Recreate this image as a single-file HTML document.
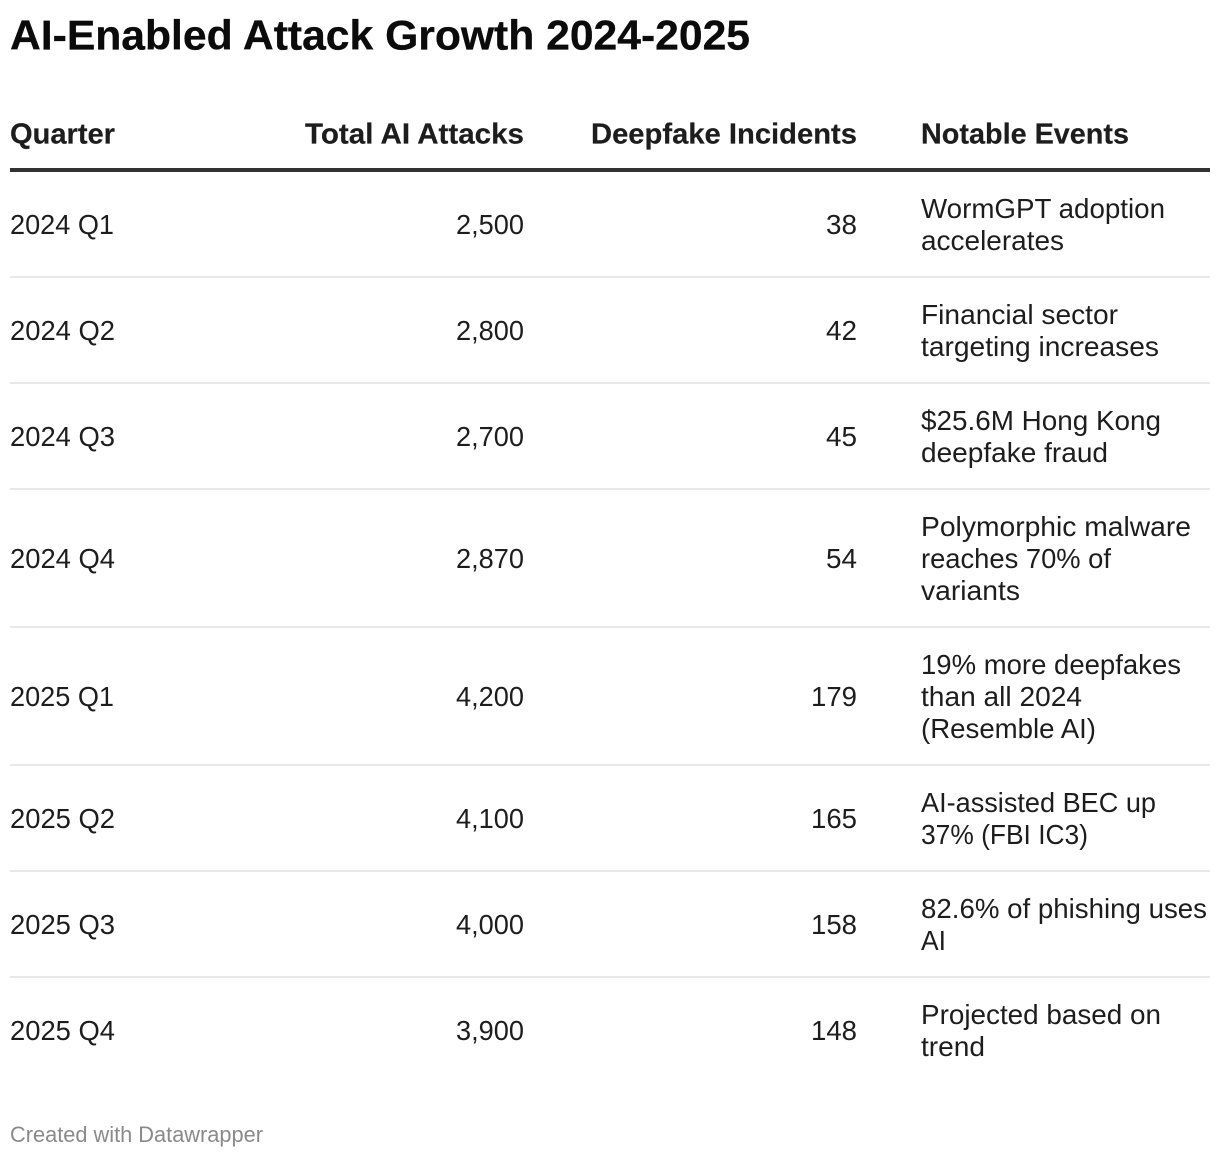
<!DOCTYPE html>
<html lang="en">
<head>
<meta charset="utf-8">
<title>AI-Enabled Attack Growth 2024-2025</title>
<style>
html,body{margin:0;padding:0;background:#fff;width:1220px;height:1158px;overflow:hidden}
svg{display:block}
text{font-family:"Liberation Sans",Arial,sans-serif;fill:#1d1d1d;font-size:28px}
.h{font-weight:700;font-size:28.5px;stroke:#1d1d1d;stroke-width:.2px}
.t{font-weight:700;font-size:42px;fill:#0b0b0b;stroke:#0b0b0b;stroke-width:.3px}
.f{font-size:22.5px;fill:#8a8a8a}
.r{fill:#e9e9e9}
</style>
</head>
<body>
<svg width="1220" height="1158" viewBox="0 0 1220 1158">
<text class="t" x="10" y="49.5" textLength="740" lengthAdjust="spacingAndGlyphs">AI-Enabled Attack Growth 2024-2025</text>

<g>
<text class="h" x="10" y="143.5" textLength="105" lengthAdjust="spacingAndGlyphs">Quarter</text>
<text class="h" x="305" y="143.5" textLength="219" lengthAdjust="spacingAndGlyphs">Total AI Attacks</text>
<text class="h" x="591" y="143.5" textLength="266" lengthAdjust="spacingAndGlyphs">Deepfake Incidents</text>
<text class="h" x="921" y="143.5" textLength="208" lengthAdjust="spacingAndGlyphs">Notable Events</text>
<rect x="10" y="168" width="1200" height="4" fill="#333"/>
</g>

<g>
<text x="10" y="234" textLength="104" lengthAdjust="spacingAndGlyphs">2024 Q1</text>
<text x="456" y="234" textLength="68" lengthAdjust="spacingAndGlyphs">2,500</text>
<text x="826" y="234" textLength="31" lengthAdjust="spacingAndGlyphs">38</text>
<text x="921" y="218" textLength="244" lengthAdjust="spacingAndGlyphs">WormGPT adoption</text>
<text x="921" y="250" textLength="143" lengthAdjust="spacingAndGlyphs">accelerates</text>
<rect class="r" x="10" y="276" width="1200" height="2"/>
</g>

<g>
<text x="10" y="340" textLength="105" lengthAdjust="spacingAndGlyphs">2024 Q2</text>
<text x="456" y="340" textLength="68" lengthAdjust="spacingAndGlyphs">2,800</text>
<text x="826" y="340" textLength="31" lengthAdjust="spacingAndGlyphs">42</text>
<text x="921" y="324" textLength="197" lengthAdjust="spacingAndGlyphs">Financial sector</text>
<text x="921" y="356" textLength="238" lengthAdjust="spacingAndGlyphs">targeting increases</text>
<rect class="r" x="10" y="382" width="1200" height="2"/>
</g>

<g>
<text x="10" y="446" textLength="105" lengthAdjust="spacingAndGlyphs">2024 Q3</text>
<text x="456" y="446" textLength="68" lengthAdjust="spacingAndGlyphs">2,700</text>
<text x="826" y="446" textLength="31" lengthAdjust="spacingAndGlyphs">45</text>
<text x="921" y="430" textLength="240" lengthAdjust="spacingAndGlyphs">$25.6M Hong Kong</text>
<text x="921" y="462" textLength="187" lengthAdjust="spacingAndGlyphs">deepfake fraud</text>
<rect class="r" x="10" y="488" width="1200" height="2"/>
</g>

<g>
<text x="10" y="568" textLength="105" lengthAdjust="spacingAndGlyphs">2024 Q4</text>
<text x="456" y="568" textLength="68" lengthAdjust="spacingAndGlyphs">2,870</text>
<text x="826" y="568" textLength="31" lengthAdjust="spacingAndGlyphs">54</text>
<text x="921" y="536" textLength="270" lengthAdjust="spacingAndGlyphs">Polymorphic malware</text>
<text x="921" y="568" textLength="190" lengthAdjust="spacingAndGlyphs">reaches 70% of</text>
<text x="921" y="600" textLength="99" lengthAdjust="spacingAndGlyphs">variants</text>
<rect class="r" x="10" y="626" width="1200" height="2"/>
</g>

<g>
<text x="10" y="706" textLength="104" lengthAdjust="spacingAndGlyphs">2025 Q1</text>
<text x="456" y="706" textLength="68" lengthAdjust="spacingAndGlyphs">4,200</text>
<text x="811" y="706" textLength="46" lengthAdjust="spacingAndGlyphs">179</text>
<text x="921" y="674" textLength="260" lengthAdjust="spacingAndGlyphs">19% more deepfakes</text>
<text x="921" y="706" textLength="161" lengthAdjust="spacingAndGlyphs">than all 2024</text>
<text x="921" y="738" textLength="175" lengthAdjust="spacingAndGlyphs">(Resemble AI)</text>
<rect class="r" x="10" y="764" width="1200" height="2"/>
</g>

<g>
<text x="10" y="828" textLength="105" lengthAdjust="spacingAndGlyphs">2025 Q2</text>
<text x="456" y="828" textLength="68" lengthAdjust="spacingAndGlyphs">4,100</text>
<text x="811" y="828" textLength="46" lengthAdjust="spacingAndGlyphs">165</text>
<text x="921" y="812" textLength="235" lengthAdjust="spacingAndGlyphs">AI-assisted BEC up</text>
<text x="921" y="844" textLength="167" lengthAdjust="spacingAndGlyphs">37% (FBI IC3)</text>
<rect class="r" x="10" y="870" width="1200" height="2"/>
</g>

<g>
<text x="10" y="934" textLength="105" lengthAdjust="spacingAndGlyphs">2025 Q3</text>
<text x="456" y="934" textLength="68" lengthAdjust="spacingAndGlyphs">4,000</text>
<text x="811" y="934" textLength="46" lengthAdjust="spacingAndGlyphs">158</text>
<text x="921" y="918" textLength="286" lengthAdjust="spacingAndGlyphs">82.6% of phishing uses</text>
<text x="921" y="950" textLength="25" lengthAdjust="spacingAndGlyphs">AI</text>
<rect class="r" x="10" y="976" width="1200" height="2"/>
</g>

<g>
<text x="10" y="1040" textLength="105" lengthAdjust="spacingAndGlyphs">2025 Q4</text>
<text x="456" y="1040" textLength="68" lengthAdjust="spacingAndGlyphs">3,900</text>
<text x="811" y="1040" textLength="46" lengthAdjust="spacingAndGlyphs">148</text>
<text x="921" y="1024" textLength="240" lengthAdjust="spacingAndGlyphs">Projected based on</text>
<text x="921" y="1056" textLength="64" lengthAdjust="spacingAndGlyphs">trend</text>
</g>

<text class="f" x="10" y="1142" textLength="253" lengthAdjust="spacingAndGlyphs">Created with Datawrapper</text>
</svg>
</body>
</html>
